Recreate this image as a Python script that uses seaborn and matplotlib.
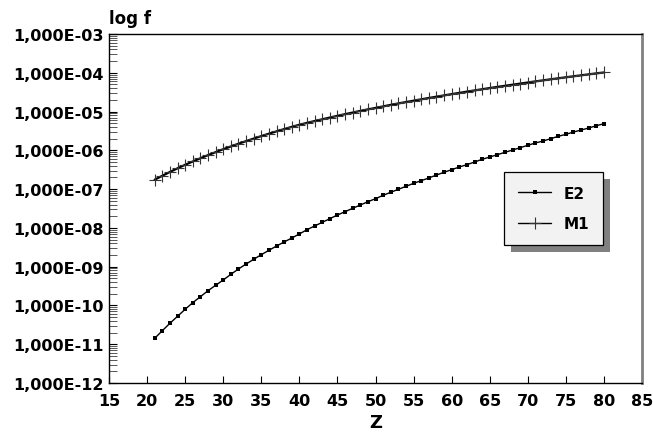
import matplotlib
matplotlib.use("Agg")
import matplotlib.pyplot as plt
import matplotlib.ticker as mticker
from matplotlib.patches import Rectangle
import numpy as np
import pandas as pd
import seaborn as sns

# Z values (atomic number)
z_vals = list(range(21, 81))

# E2 transition rates
e2_vals = [1.42e-11, 2.23e-11, 3.47e-11, 5.25e-11, 7.96e-11, 1.18e-10, 1.68e-10, 2.40e-10,
           3.31e-10, 4.53e-10, 6.35e-10, 8.71e-10, 1.17e-9, 1.55e-9, 2.04e-9, 2.64e-9,
           3.41e-9, 4.33e-9, 5.49e-9, 6.97e-9, 8.99e-9, 1.12e-8, 1.39e-8, 1.73e-8,
           2.15e-8, 2.62e-8, 3.20e-8, 3.89e-8, 4.74e-8, 5.66e-8, 6.93e-8, 8.28e-8,
           9.89e-8, 1.18e-7, 1.41e-7, 1.65e-7, 1.94e-7, 2.31e-7, 2.72e-7, 3.17e-7,
           3.72e-7, 4.27e-7, 5.00e-7, 5.87e-7, 6.73e-7, 7.73e-7, 8.89e-7, 1.02e-6,
           1.17e-6, 1.35e-6, 1.55e-6, 1.74e-6, 2.00e-6, 2.30e-6, 2.59e-6, 2.97e-6,
           3.34e-6, 3.77e-6, 4.32e-6, 4.86e-6]

# M1 transition rates
m1_vals = [1.75e-7, 2.21e-7, 2.77e-7, 3.44e-7, 4.24e-7, 5.16e-7, 6.25e-7, 7.52e-7,
           8.97e-7, 1.07e-6, 1.26e-6, 1.48e-6, 1.73e-6, 2.01e-6, 2.33e-6, 2.69e-6,
           3.09e-6, 3.53e-6, 4.03e-6, 4.57e-6, 5.11e-6, 5.69e-6, 6.32e-6, 7.01e-6,
           7.76e-6, 8.57e-6, 9.44e-6, 1.04e-5, 1.14e-5, 1.24e-5, 1.36e-5, 1.49e-5,
           1.62e-5, 1.76e-5, 1.91e-5, 2.07e-5, 2.24e-5, 2.42e-5, 2.61e-5, 2.82e-5,
           3.03e-5, 3.27e-5, 3.51e-5, 3.77e-5, 4.04e-5, 4.33e-5, 4.62e-5, 4.94e-5,
           5.27e-5, 5.62e-5, 6.00e-5, 6.38e-5, 6.79e-5, 7.21e-5, 7.66e-5, 8.13e-5,
           8.61e-5, 9.12e-5, 9.66e-5, 1.02e-4]

x_ticks = list(range(15, 90, 5))

df = pd.DataFrame({'Z': z_vals, 'E2': e2_vals, 'M1': m1_vals})

sns.set_theme(style='white')
plt.rcParams['font.family'] = ['DejaVu Sans']
plt.rcParams['font.weight'] = 'bold'
plt.rcParams['text.color'] = 'black'
plt.rcParams['axes.labelcolor'] = 'black'
plt.rcParams['xtick.color'] = 'black'
plt.rcParams['ytick.color'] = 'black'

fig = plt.figure(figsize=(6.53, 4.35), dpi=100)
ax = fig.add_axes([0.1669, 0.1172, 0.8163, 0.8023])

sns.lineplot(data=df, x='Z', y='E2', ax=ax, color='black', lw=1.0,
             marker='s', markersize=3.2, markeredgewidth=0, label='E2')
sns.lineplot(data=df, x='Z', y='M1', ax=ax, color='black', lw=1.6,
             marker='+', markersize=8, markeredgewidth=0.8,
             markeredgecolor='#333333', label='M1')

ax.set_yscale('log')
ax.set_xlim(15, 85)
ax.set_ylim(1e-12, 1e-3)
ax.set_xticks(x_ticks)
ax.yaxis.set_major_locator(mticker.LogLocator(base=10, numticks=20))
ax.yaxis.set_minor_locator(mticker.LogLocator(base=10, subs=np.arange(2, 10), numticks=20))
ax.yaxis.set_major_formatter(mticker.FuncFormatter(
    lambda v, p: "1,000E-%02d" % round(-np.log10(v))))
ax.yaxis.set_minor_formatter(mticker.NullFormatter())

ax.tick_params(axis='both', which='both', direction='in', labelsize=11.5,
               colors='black', left=True, bottom=True, right=False, top=False)
ax.tick_params(axis='x', which='major', length=5, width=0.8, pad=7)
ax.tick_params(axis='y', which='major', length=6, width=0.8, pad=4)
ax.tick_params(axis='y', which='minor', length=6, width=0.7, color='#555555')
for lab in ax.get_xticklabels() + ax.get_yticklabels():
    lab.set_fontweight('bold')

for s in ['left', 'bottom', 'top']:
    ax.spines[s].set_color('black')
    ax.spines[s].set_linewidth(1.0)
ax.spines['right'].set_color('#808080')
ax.spines['right'].set_linewidth(2.0)

ax.set_xlabel('Z', fontsize=13, fontweight='bold', labelpad=4, color='black')
ax.set_ylabel('')
ax.text(0.0, 1.02, 'log f', transform=ax.transAxes, fontsize=12,
        fontweight='bold', ha='left', va='bottom', color='black')

leg = ax.legend(loc='upper left', bbox_to_anchor=(0.741, 0.605), frameon=True,
                fancybox=False, fontsize=11, handlelength=2.2, borderpad=0.9,
                labelspacing=1.0, handletextpad=0.8, borderaxespad=0)
leg.get_frame().set_facecolor('#f2f2f2')
leg.get_frame().set_edgecolor('black')
leg.get_frame().set_linewidth(0.9)
leg.get_frame().set_alpha(1)
for t in leg.get_texts():
    t.set_fontweight('bold')
    t.set_color('black')
for h in leg.legend_handles:
    h.set_linewidth(1.0)

# grey drop shadow behind the legend box
fig.canvas.draw()
bb = leg.get_window_extent().transformed(ax.transAxes.inverted())
dx = 7 / (ax.bbox.width)
dy = 7 / (ax.bbox.height)
ax.add_patch(Rectangle((bb.x0 + dx, bb.y0 - dy), bb.width, bb.height,
                       transform=ax.transAxes, facecolor='#808080',
                       edgecolor='none', zorder=4.5, clip_on=False))

fig.savefig('out.png', dpi=100)
